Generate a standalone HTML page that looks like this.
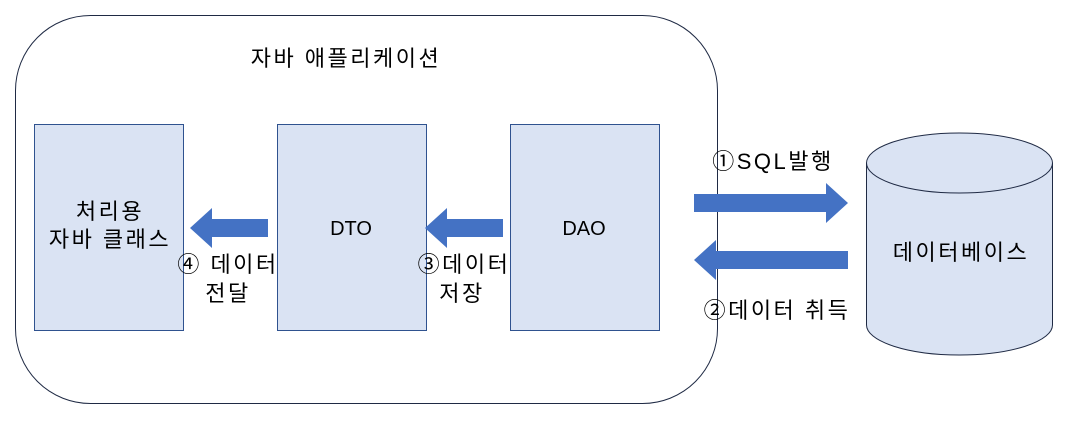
<!DOCTYPE html>
<html><head><meta charset="utf-8"><style>
body{margin:0;background:#fff;width:1086px;height:418px;overflow:hidden}
svg text{font-family:"Liberation Sans","Noto Sans CJK KR",sans-serif;font-size:20px;fill:#000}
svg text.k{font-size:22px;letter-spacing:2.5px}
</style></head><body>
<svg width="1086" height="418" xmlns="http://www.w3.org/2000/svg">
<rect x="15.5" y="15.5" width="702" height="388" rx="75" fill="#fff" stroke="#1f2a44" stroke-width="1"/>
<text class="k" x="346" y="66" text-anchor="middle">자바 애플리케이션</text>
<g fill="#dae3f3" stroke="#2f528f" stroke-width="1">
<rect x="34.5" y="124.5" width="149" height="206"/>
<rect x="277.5" y="124.5" width="149" height="206"/>
<rect x="510.5" y="124.5" width="149" height="206"/>
</g>
<text class="k" x="110" y="219" text-anchor="middle">처리용</text>
<text class="k" x="110" y="247" text-anchor="middle">자바 클래스</text>
<text x="351" y="235" text-anchor="middle">DTO</text>
<text x="584" y="235" text-anchor="middle">DAO</text>
<g fill="#4472c4">
<polygon points="268,219 212,219 212,208 190,228 212,248 212,237 268,237"/>
<polygon points="503,219 447,219 447,208 425,228 447,248 447,237 503,237"/>
<polygon points="694,194 826,194 826,183 848,203 826,223 826,212 694,212"/>
<polygon points="848,251 716,251 716,240 694,260 716,280 716,269 848,269"/>
</g>
<text class="k" x="228" y="272" text-anchor="middle">④ 데이터</text>
<text class="k" x="228" y="301" text-anchor="middle">전달</text>
<text class="k" x="464" y="272" text-anchor="middle">③데이터</text>
<text class="k" x="462" y="301" text-anchor="middle">저장</text>
<text class="k" x="773" y="169" text-anchor="middle">①SQL발행</text>
<text class="k" x="777" y="318" text-anchor="middle">②데이터 취득</text>
<path d="M866.5,163 L866.5,325 A93,30 0 0 0 1052.5,325 L1052.5,163" fill="#dae3f3" stroke="#1f2a44"/>
<ellipse cx="959.5" cy="163" rx="93" ry="30" fill="#dae3f3" stroke="#1f2a44"/>
<text class="k" x="961" y="260" text-anchor="middle">데이터베이스</text>
</svg>
</body></html>
